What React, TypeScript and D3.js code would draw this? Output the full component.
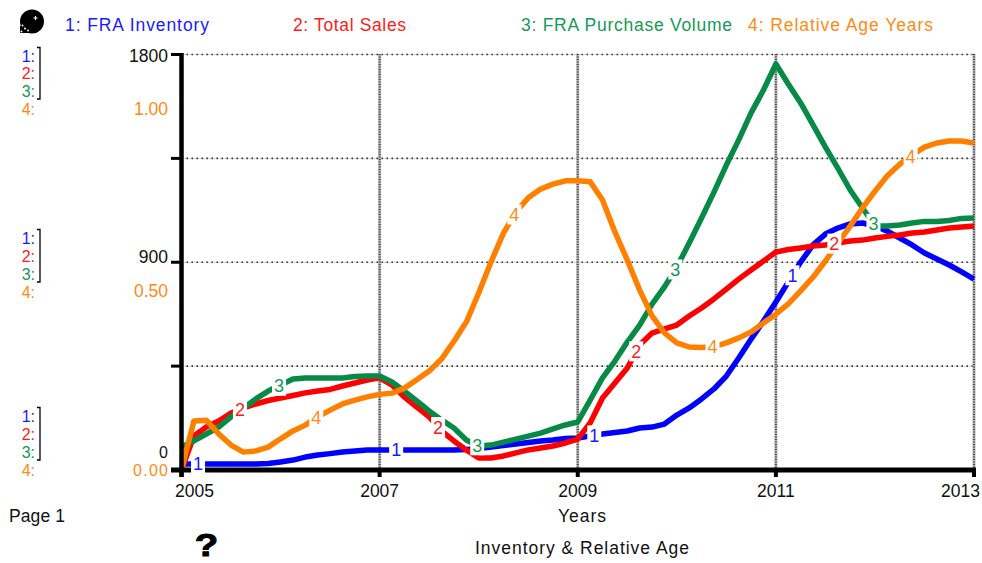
import React from "react";
import * as d3 from "d3";

const startYear = 2005;
const stepYears = 0.125;

const fraInventory = [26,26,26,26,26,26,26,28,35,43,56,65,71,78,82,87,87,87,87,87,87,87,87,89,93,100,106,113,119,126,130,136,139,147,156,162,169,182,186,199,238,269,308,351,407,485,567,645,728,814,901,975,1022,1048,1066,1070,1057,1035,1005,975,940,914,888,858,827];
const totalSales = [0,147,186,212,247,269,286,301,312,323,334,342,349,364,377,390,399,368,316,273,230,169,126,87,52,52,61,74,87,95,104,117,134,204,312,377,442,542,593,611,628,667,702,741,784,827,866,905,944,955,962,970,975,983,992,996,1005,1012,1018,1027,1031,1040,1048,1053,1057];
const purchaseVolume = [100,126,156,186,230,269,308,342,368,394,399,399,399,399,405,407,407,381,342,299,256,217,182,130,104,108,121,134,147,160,178,195,208,303,399,472,554,628,719,793,879,983,1092,1204,1321,1430,1547,1646,1759,1672,1590,1495,1399,1308,1213,1135,1057,1057,1061,1070,1077,1077,1081,1090,1092];
const relativeAge = [0,0.118,0.12,0.087,0.06,0.043,0.046,0.055,0.075,0.094,0.108,0.128,0.144,0.159,0.168,0.176,0.182,0.185,0.197,0.217,0.238,0.267,0.31,0.356,0.426,0.501,0.57,0.621,0.655,0.676,0.688,0.696,0.696,0.694,0.65,0.573,0.505,0.433,0.371,0.33,0.306,0.296,0.295,0.297,0.306,0.318,0.332,0.354,0.375,0.4,0.431,0.464,0.503,0.546,0.587,0.631,0.671,0.708,0.736,0.758,0.777,0.787,0.792,0.792,0.787];

const seriesNumbers = ["1", "2", "3", "4"];
const seriesColors = ["#0000ff", "#ff0000", "#078a45", "#ff8000"];
const seriesTextColors = ["#1a1aff", "#ff1a1a", "#149a55", "#ff8a14"];
const legendLabels = ["1: FRA Inventory", "2: Total Sales", "3: FRA Purchase Volume", "4: Relative Age Years"];
const legendX = [65, 293, 521, 748];
const legendWidths = [144, 113, 211, 185];
const labelYearOffsets = [0.167, 0.59, 0.985, 1.36];
const labelCycles = [0, 2, 4, 6];
const xTickYears = [2005, 2007, 2009, 2011, 2013];
const yGridValues = [0, 450, 900, 1350, 1800];
const scaleRowY = [[56, 73, 91, 109], [238, 256, 274, 292], [416, 434, 452, 470]];

const FONT = "'Liberation Sans', Arial, sans-serif";
const x = d3.scaleLinear().domain([2005, 2013]).range([181.5, 974]);
const yLeft = d3.scaleLinear().domain([0, 1800]).range([470, 54.5]);
const yAge = d3.scaleLinear().domain([0, 1]).range([470, 54.5]);

const allSeries = [fraInventory, totalSales, purchaseVolume, relativeAge];
const scales = [yLeft, yLeft, yLeft, yAge];

function valueAt(values: number[], year: number) {
  const p = (year - startYear) / stepYears;
  const i = Math.min(values.length - 2, Math.floor(p));
  return d3.interpolateNumber(values[i], values[i + 1])(p - i);
}

export default function App() {
  return (
    <svg width={982} height={563} style={{ position: "absolute", left: 0, top: 0, display: "block", background: "#fff" }} fontFamily={FONT}>
      {/* grid */}
      {yGridValues.slice(1).map((v) => (
        <g key={v}>
          <line x1={x(2005)} x2={x(2013)} y1={yLeft(v)} y2={yLeft(v)} stroke="#aaa" strokeWidth={1} strokeDasharray="1 1" />
          <line x1={x(2005)} x2={x(2013)} y1={yLeft(v)} y2={yLeft(v)} stroke="#333" strokeWidth={1.6} strokeDasharray="1.5 3.5" />
        </g>
      ))}
      {xTickYears.slice(1).map((t) => (
        <g key={t}>
          <line x1={x(t)} x2={x(t)} y1={54} y2={470} stroke="#b5b5b5" strokeWidth={3} />
          <line x1={x(t)} x2={x(t)} y1={54} y2={470} stroke="#444" strokeWidth={2} strokeDasharray="1 1.5" />
        </g>
      ))}
      {/* lines */}
      {allSeries.map((values, s) => {
        const path = d3.line<number>()
          .x((_, i) => x(startYear + i * stepYears))
          .y((d) => scales[s](d))
          .curve(d3.curveLinear)(values) as string;
        return <path key={s} d={path} fill="none" stroke={seriesColors[s]} strokeWidth={5.5} strokeLinejoin="round" />;
      })}
      {/* axes */}
      <line x1={x(2005)} x2={x(2005)} y1={53} y2={477} stroke="#000" strokeWidth={4.5} />
      <line x1={171} x2={x(2013) + 2} y1={470} y2={470} stroke="#000" strokeWidth={5} />
      {yGridValues.slice(1).map((v) => (
        <line key={v} x1={171} x2={x(2005)} y1={yLeft(v)} y2={yLeft(v)} stroke="#000" strokeWidth={3} />
      ))}
      {xTickYears.map((t) => (
        <line key={t} x1={x(t)} x2={x(t)} y1={470} y2={477} stroke="#000" strokeWidth={4} />
      ))}
      {/* series labels */}
      {allSeries.map((values, s) =>
        labelCycles.map((c) => {
          const t = startYear + labelYearOffsets[s] + c;
          const cx = x(t);
          const cy = scales[s](valueAt(values, t));
          return (
            <g key={`${s}-${c}`}>
              <rect x={cx - 7} y={cy - 10} width={14} height={20} fill="#fff" />
              <text x={cx} y={cy + 6.5} textAnchor="middle" fontSize={18} fill={seriesTextColors[s]}>{seriesNumbers[s]}</text>
            </g>
          );
        })
      )}
      {/* legend */}
      {legendLabels.map((l, i) => (
        <text key={l} x={legendX[i]} y={31} fontSize={17.5} fill={seriesTextColors[i]} textLength={legendWidths[i]} lengthAdjust="spacing">{l}</text>
      ))}
      {/* scale keys */}
      {scaleRowY.map((rows, g) => (
        <g key={g}>
          {rows.map((ry, i) => (
            <text key={i} x={35} y={ry + 5.5} textAnchor="end" fontSize={16} fill={seriesTextColors[i]}>{seriesNumbers[i] + ":"}</text>
          ))}
          <path d={`M37 ${rows[0] - 8.5} H40 V${rows[2] + 8} H37`} fill="none" stroke="#000" strokeWidth={1.3} />
        </g>
      ))}
      {/* axis numbers */}
      <text x={168} y={62} textAnchor="end" fontSize={17.5} fill="#111">1800</text>
      <text x={168} y={115} textAnchor="end" fontSize={17.5} fill="#ff8a14">1.00</text>
      <text x={168} y={262.5} textAnchor="end" fontSize={17.5} fill="#111">900</text>
      <text x={168} y={297} textAnchor="end" fontSize={17.5} fill="#ff8a14">0.50</text>
      <text x={168} y={457.5} textAnchor="end" fontSize={16} fill="#111">0</text>
      <text x={168} y={476} textAnchor="end" fontSize={16} fill="#ff8a14" textLength={35} lengthAdjust="spacing">0.00</text>
      {xTickYears.map((t, i) => (
        <text key={t} x={i === 0 ? 175 : i === 4 ? 980 : x(t)} y={497} textAnchor={i === 0 ? "start" : i === 4 ? "end" : "middle"} fontSize={17.5} fill="#111">{t}</text>
      ))}
      <text x={558} y={522} fontSize={17.5} fill="#111" textLength={48} lengthAdjust="spacing">Years</text>
      <text x={475} y={554} fontSize={17.5} fill="#111" textLength={214} lengthAdjust="spacing">Inventory &amp; Relative Age</text>
      <text x={9} y={522} fontSize={17.5} fill="#111" textLength={56} lengthAdjust="spacing">Page 1</text>
      {/* icons */}
      <g transform="translate(206.5 556) scale(1.2 1)">
        <text x={0} y={0} textAnchor="middle" fontSize={32} fontWeight="bold" fill="#000" stroke="#000" strokeWidth={1}>?</text>
      </g>
      <circle cx={32} cy={21.5} r={12} fill="#000" />
      <path d="M35.5 16 V20 M33.5 18 H37.5" stroke="#fff" strokeWidth={1.2} />
      <rect x={20} y={26} width={9} height={7} fill="#000" />
      <circle cx={22.5} cy={25.5} r={1} fill="#fff" />
      <circle cx={25} cy={28.5} r={1} fill="#fff" />
      <circle cx={28} cy={30.5} r={1} fill="#eee" />
      <circle cx={21.5} cy={31.5} r={1} fill="#fff" />
    </svg>
  );
}
